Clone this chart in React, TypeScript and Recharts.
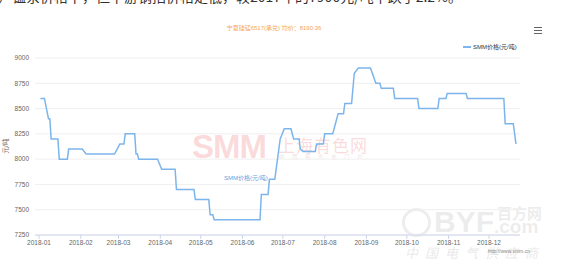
import { LineChart, Line, XAxis, YAxis, CartesianGrid } from 'recharts';

const monthLabels = [
  '2018-01', '2018-02', '2018-03', '2018-04', '2018-05', '2018-06',
  '2018-07', '2018-08', '2018-09', '2018-10', '2018-11', '2018-12',
];
// day-of-year where each month starts
const monthStarts = [0, 31, 59, 90, 120, 151, 181, 212, 243, 273, 304, 334];

const yTicks = [7250, 7500, 7750, 8000, 8250, 8500, 8750, 9000];

// price change points (day of year, 元/吨)
const days = [
  1, 4, 7, 8, 9, 14, 15, 21, 22, 32, 35, 56, 58, 60, 63, 64, 71, 72, 73, 74,
  88, 91, 101, 102, 115, 116, 126, 127, 129, 130, 164, 165, 170, 171, 175, 179,
  182, 187, 189, 193, 194, 196, 205, 206, 211, 212, 218, 220, 222, 226, 227,
  232, 234, 237, 246, 250, 253, 254, 263, 264, 281, 282, 296, 297, 302, 303,
  317, 318, 345, 346, 352, 354,
];
const prices = [
  8600, 8600, 8400, 8400, 8200, 8200, 8000, 8000, 8100, 8100, 8050, 8050, 8100,
  8150, 8150, 8250, 8250, 8050, 8050, 8000, 8000, 7900, 7900, 7700, 7700, 7600,
  7600, 7450, 7450, 7400, 7400, 7650, 7650, 7800, 7800, 8200, 8300, 8300, 8200,
  8200, 8100, 8075, 8075, 8150, 8150, 8250, 8250, 8350, 8450, 8450, 8550, 8550,
  8850, 8900, 8900, 8750, 8750, 8700, 8700, 8600, 8600, 8500, 8500, 8600, 8600,
  8650, 8650, 8600, 8600, 8350, 8350, 8150,
];

const seriesName = 'SMM价格(元/吨)';
const title = '宁夏硅锰6517(承兑) 均价：8190.36';

const data = days.map((d, i) => ({ day: d, price: prices[i] }));

const FONT = '"Liberation Sans", "Noto Sans CJK SC", sans-serif';
const LINE = '#7cb5ec';
const PINK = 'rgba(238,110,110,0.26)';
const GREY = 'rgba(190,190,190,0.28)';

const abs = (x: number, y: number, extra: React.CSSProperties = {}): React.CSSProperties => ({
  position: 'absolute',
  left: x,
  top: y,
  whiteSpace: 'nowrap',
  fontFamily: FONT,
  pointerEvents: 'none',
  ...extra,
});

export default function App() {
  return (
    <div
      style={{
        position: 'absolute',
        left: 0,
        top: 0,
        width: 563,
        height: 270,
        overflow: 'hidden',
        background: '#fff',
      }}
    >
      {/* clipped line of article text above the chart */}
      <div style={abs(-2, -14, { fontSize: 14, color: '#333', fontFamily: '"Noto Sans CJK SC", sans-serif' })}>
        ）锰系价格下，但下游钢招价格走低，较2017年的7900元/吨下跌了2.2%。
      </div>

      {/* watermarks */}
      <div style={abs(192, 128, { fontSize: 33, fontWeight: 'bold', color: PINK, letterSpacing: -1 })}>
        SMM
      </div>
      <div style={abs(278, 132, { fontSize: 17, color: PINK, letterSpacing: 1 })}>
        上海有色网
      </div>
      <div style={abs(279, 153, { fontSize: 5.5, color: 'rgba(200,150,150,0.3)', letterSpacing: 7.5 })}>
        中国铁合金门户
      </div>
      <div
        style={abs(402, 208, {
          width: 23,
          height: 23,
          borderRadius: '50%',
          border: `3px solid ${GREY}`,
        })}
      />
      <div style={abs(434, 205, { fontSize: 30, fontWeight: 'bold', color: GREY })}>
        BYF
      </div>
      <div style={abs(497, 202, { fontSize: 15, fontWeight: 'bold', color: GREY })}>
        百方网
      </div>
      <div style={abs(494, 216, { fontSize: 19, fontWeight: 'bold', color: GREY })}>
        .com
      </div>
      <div style={abs(405, 243, { fontSize: 13, fontStyle: 'italic', color: 'rgba(190,190,190,0.35)', letterSpacing: 7 })}>
        中国电气供应商
      </div>
      <div style={abs(488, 248, { fontSize: 5, color: '#888' })}>http://www.smm.cn</div>

      <LineChart
        width={563}
        height={270}
        data={data}
        margin={{ top: 58, right: 43, bottom: 15, left: 0 }}
        style={{ position: 'absolute', left: 0, top: 0 }}
      >
        <CartesianGrid vertical={false} stroke="#efefef" strokeWidth={1} />
        <XAxis
          dataKey="day"
          type="number"
          domain={[-3, 357]}
          ticks={monthStarts}
          tickFormatter={(v: number) => monthLabels[monthStarts.indexOf(v)]}
          interval={0}
          height={20}
          stroke="#ccd6eb"
          tickSize={4}
          tickMargin={1}
          tick={{ fill: '#666', fontSize: 6.5, fontFamily: FONT }}
        />
        <YAxis
          domain={[7250, 9000]}
          ticks={yTicks}
          interval={0}
          width={35}
          axisLine={false}
          tickLine={false}
          tickSize={0}
          tickMargin={6}
          tick={{ fill: '#666', fontSize: 6.5, fontFamily: FONT }}
        />
        <Line
          type="linear"
          dataKey="price"
          name={seriesName}
          stroke={LINE}
          strokeWidth={1.5}
          dot={false}
          activeDot={false}
          isAnimationActive={false}
        />
      </LineChart>

      {/* axis title */}
      <div
        style={abs(-4, 142, {
          fontSize: 6.5,
          color: '#666',
          transform: 'rotate(-90deg)',
          width: 20,
          textAlign: 'center',
          lineHeight: '8px',
        })}
      >
        元/吨
      </div>

      {/* chart title */}
      <div style={abs(174, 24, { width: 200, textAlign: 'center', fontSize: 6, color: '#f7a35c', lineHeight: '8px' })}>
        {title}
      </div>

      {/* export menu icon */}
      {[27, 30, 33].map((y) => (
        <div key={y} style={abs(534, y, { width: 8, height: 1.4, background: '#666' })} />
      ))}

      {/* legend */}
      <div style={abs(463, 46, { width: 8, height: 1.5, background: LINE })} />
      <div style={abs(473, 43, { fontSize: 6, color: '#333', lineHeight: '8px' })}>{seriesName}</div>

      {/* series label */}
      <div style={abs(224, 174, { fontSize: 6, color: '#5f9fe0', lineHeight: '8px' })}>{seriesName}</div>
    </div>
  );
}
